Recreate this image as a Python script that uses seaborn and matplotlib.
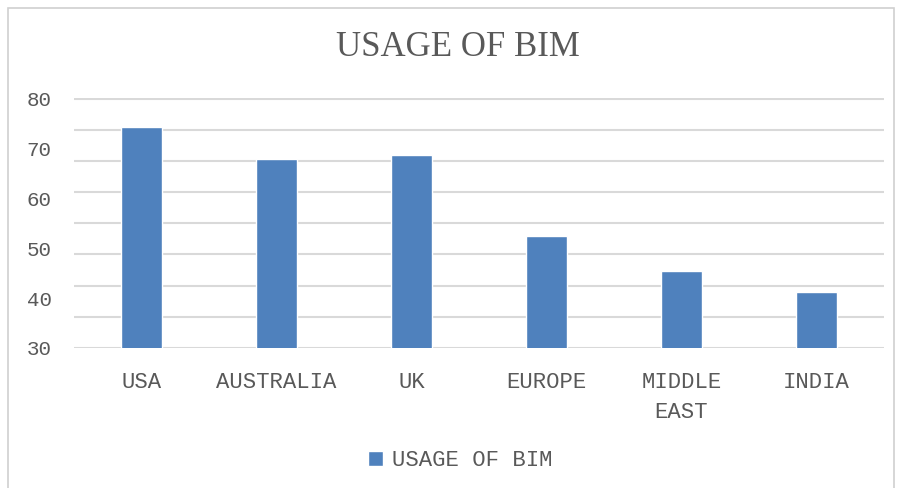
import numpy as np
import pandas as pd
import matplotlib
matplotlib.use("Agg")
import matplotlib.pyplot as plt
from matplotlib.patches import Rectangle
import seaborn as sns

regions = ["USA", "AUSTRALIA", "UK", "EUROPE", "MIDDLE\nEAST", "INDIA"]
usage = [74.3, 67.9, 68.6, 52.5, 45.5, 41.2]
ytick_labels = [30, 40, 50, 60, 70, 80]

bar_color = "#4F81BD"
text_color = "#595959"

sns.set_style("white")
plt.rcParams['font.family'] = ['Liberation Mono', 'DejaVu Sans Mono']

df = pd.DataFrame({"region": regions, "usage": usage})

fig = plt.figure(figsize=(8.97, 4.88), dpi=100)
ax = fig.add_axes([0.0825, 0.287, 0.903, 0.512])

sns.barplot(data=df, x="region", y="usage", color=bar_color, width=0.31,
            saturation=1, label="USAGE OF BIM", ax=ax, zorder=3)

ax.set_ylim(30, 80.1)
ax.set_xlim(-0.5, len(regions) - 0.5)

# labels every 10, gridlines on their own spacing
ax.set_yticks(ytick_labels)
ax.set_yticklabels([str(v) for v in ytick_labels])
ax.set_yticks(np.linspace(30, 80, 9), minor=True)
ax.yaxis.remove_overlapping_locs = False
ax.grid(False)
ax.grid(which="minor", axis="y", color="#D9D9D9", linewidth=1.5, zorder=0)
ax.tick_params(axis="y", which="both", length=0, pad=16, labelsize=15, labelcolor=text_color)
ax.tick_params(axis="x", length=0, pad=17, labelsize=16, labelcolor=text_color)
for lbl in ax.get_xticklabels():
    lbl.set_linespacing(1.6)

for s in ax.spines.values():
    s.set_visible(False)
ax.set_xlabel("")
ax.set_ylabel("")

fig.text(0.51, 0.902, "USAGE OF BIM", ha="center", va="center",
         fontsize=25, color=text_color, family=["Liberation Serif", "DejaVu Serif"])

ax.legend(loc="center", bbox_to_anchor=(0.513, 0.056), bbox_transform=fig.transFigure,
          frameon=False, fontsize=16, labelcolor=text_color,
          handlelength=0.7, handleheight=0.7, handletextpad=0.4)

fig.patches.append(Rectangle((0.009, -0.05), 0.988, 1.034, transform=fig.transFigure,
                             fill=False, edgecolor="#D0D0D0", linewidth=1.2))

fig.savefig("out.png", dpi=100, facecolor="white")
